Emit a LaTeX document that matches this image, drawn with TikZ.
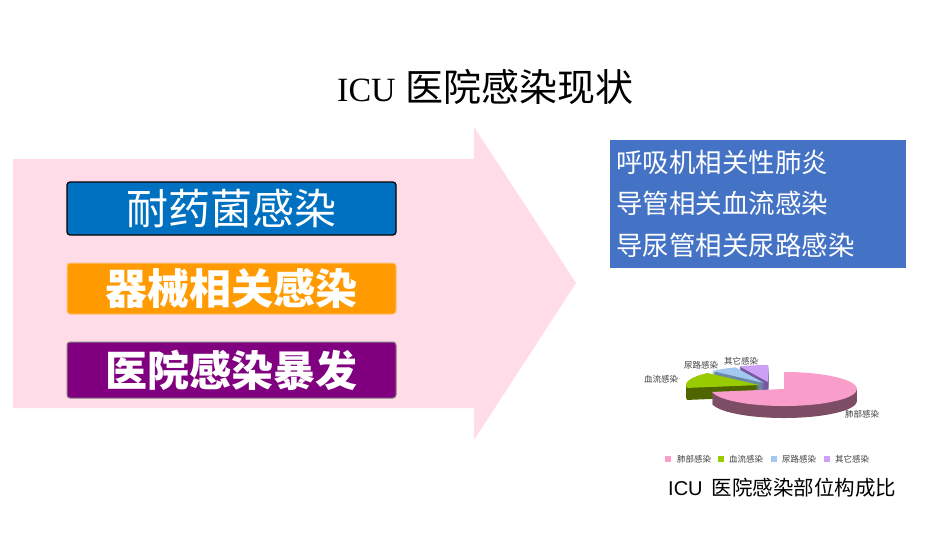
\documentclass[tikz,border=0pt]{standalone}
\usepackage{fontspec}
\newfontfamily\cjk{Noto Sans CJK SC}
\newfontfamily\serifl{Liberation Serif}
\newfontfamily\sansl{Liberation Sans}
\definecolor{arrowpink}{HTML}{FFDCE8}
\definecolor{boxblue}{HTML}{0070C0}
\definecolor{boxorange}{HTML}{FF9A00}
\definecolor{orangeedge}{HTML}{FFC27F}
\definecolor{boxpurple}{HTML}{800080}
\definecolor{purpleedge}{HTML}{808080}
\definecolor{listblue}{HTML}{4472C4}
\definecolor{pinktop}{HTML}{F99ECB}
\definecolor{pinkside}{HTML}{7D4D66}
\definecolor{greentop}{HTML}{99CC00}
\definecolor{greenside}{HTML}{4F6600}
\definecolor{bluetop}{HTML}{A3C8F0}
\definecolor{blueside}{HTML}{6A88A8}
\definecolor{purpletop}{HTML}{CCA0F5}
\definecolor{purpleside}{HTML}{76599C}
\definecolor{lbl}{HTML}{404040}
\newcommand{\pieslice}[5]{%
  \foreach \k in {12,11,...,1}{%
    \fill[#5, yshift=-\k pt] (#1) -- ++(#2:73 and 17) arc[start angle=#2,end angle=#3,x radius=73,y radius=17] -- cycle;}
  \fill[#4] (#1) -- ++(#2:73 and 17) arc[start angle=#2,end angle=#3,x radius=73,y radius=17] -- cycle;}
\begin{document}
\begin{tikzpicture}[x=1pt,y=-1pt]
\tikzset{
  catbox/.style={minimum width=329pt, minimum height=53pt, rounded corners=3pt, inner sep=0pt, text=white, font=\cjk\fontsize{42}{42}\selectfont},
  listtext/.style={anchor=west, inner sep=0pt, text=white, font=\cjk\fontsize{26.5}{26.5}\selectfont},
  pielbl/.style={inner sep=0pt, text=lbl, font=\cjk\fontsize{8.5}{8.5}\selectfont},
  legsq/.style={minimum size=6pt, inner sep=0pt}
}
\fill[white] (0,0) rectangle (950,535);
\useasboundingbox (0,0) rectangle (950,535);
% title
\node[anchor=west, inner sep=0pt] (title) at (337,87) {{\serifl\fontsize{34}{34}\selectfont ICU}\hspace{10pt}{\cjk\fontsize{38}{38}\selectfont 医院感染现状}};
% big arrow
\fill[arrowpink] (13,159) -- (474,159) -- (474,127) -- (576,283) -- (474,440) -- (474,408) -- (13,408) -- cycle;
% category boxes
\node[catbox, fill=boxblue, draw=black, line width=1.2pt] (drug) at (231.5,208.5) {\raisebox{-2pt}{耐药菌感染}};
\node[catbox, fill=boxorange, draw=orangeedge, line width=1pt, minimum height=51pt, font=\cjk\bfseries\fontsize{42}{42}\selectfont] (device) at (231.5,288.5) {器械相关感染};
\node[catbox, fill=boxpurple, draw=purpleedge, line width=1pt, minimum height=56pt, font=\cjk\bfseries\fontsize{42}{42}\selectfont] (outbreak) at (231.5,370) {医院感染暴发};
% list box
\node[fill=listblue, minimum width=296pt, minimum height=128pt, anchor=north west, inner sep=0pt] (list) at (610,140) {};
\node[listtext] (l1) at (616,162) {呼吸机相关性肺炎};
\node[listtext] (l2) at (616,203) {导管相关血流感染};
\node[listtext] (l3) at (616,245) {导尿管相关尿路感染};
% pie
\begin{scope}[shift={(770,386)}, y=1pt]
  \pieslice{-2,4}{90}{113}{purpletop}{purpleside}
  \pieslice{-6,3}{113}{135}{bluetop}{blueside}
  \pieslice{-11,1}{135}{190}{greentop}{greenside}
  \pieslice{14,-3}{-170}{90}{pinktop}{pinkside}
\end{scope}
\node[pielbl, anchor=west] (lblung) at (845,414) {肺部感染};
\node[pielbl, anchor=west] (lbblood) at (644,379) {血流感染};
\node[pielbl, anchor=west] (lburine) at (684,365) {尿路感染};
\node[pielbl, anchor=west] (lbother) at (724,361) {其它感染};
% legend
\node[legsq, fill=pinktop] (sq1) at (668,459) {};
\node[pielbl, anchor=west] (lg1) at (677,459) {肺部感染};
\node[legsq, fill=greentop] (sq2) at (721,459) {};
\node[pielbl, anchor=west] (lg2) at (729,459) {血流感染};
\node[legsq, fill=bluetop] (sq3) at (774,459) {};
\node[pielbl, anchor=west] (lg3) at (782,459) {尿路感染};
\node[legsq, fill=purpletop] (sq4) at (827,459) {};
\node[pielbl, anchor=west] (lg4) at (835,459) {其它感染};
% caption
\node[anchor=west, inner sep=0pt] (caption) at (668,488) {{\sansl\fontsize{20}{20}\selectfont ICU}\hspace{9pt}{\cjk\fontsize{20.5}{20.5}\selectfont 医院感染部位构成比}};
\end{tikzpicture}
\end{document}
